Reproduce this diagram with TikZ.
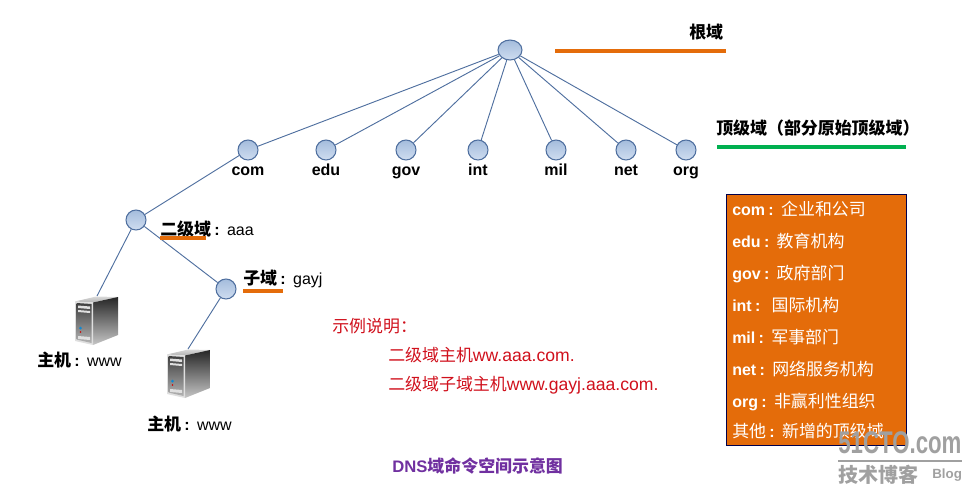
\documentclass[tikz,border=0pt]{standalone}
\usepackage{fontspec}
\setmainfont{Liberation Sans}
\newfontfamily\cjk{Noto Sans CJK SC}
\usetikzlibrary{positioning,shapes.geometric}
\definecolor{edgeblue}{HTML}{4F6F9F}
\definecolor{domtop}{HTML}{A4BCDC}
\definecolor{dombot}{HTML}{CFDDF0}
\definecolor{boxorange}{HTML}{E46C0A}
\definecolor{rulegreen}{HTML}{00B050}
\definecolor{notered}{HTML}{D0101C}
\definecolor{titlepurple}{HTML}{7030A0}
\definecolor{markgray}{HTML}{A0A0A0}
\newcommand{\zh}[1]{{\cjk\fontsize{12.7}{14}\selectfont #1}}
\newcommand{\sep}{\hspace{2.5pt}\textbf{\large:}\hspace{5.5pt}}
\tikzset{
dom/.style={circle,draw=edgeblue,thick,minimum size=15pt,inner sep=0pt,top color=domtop,bottom color=dombot},
rootdom/.style={dom,ellipse,minimum width=18pt,minimum height=15pt},
link/.style={edgeblue,line width=0.7pt},
tld/.style={font=\fontsize{12}{14}\selectfont\bfseries,inner sep=0pt,text height=9pt,text depth=3pt},
lbl/.style={font=\fontsize{12}{14}\selectfont,anchor=base west,inner sep=0pt,yshift=-4.6pt},
boxrow/.style={lbl,text=white},
noterow/.style={lbl,font=\fontsize{13.2}{15}\selectfont,text=notered},
bar/.style={line width=2.4pt},
server/.pic={
\shade[top color=gray!30,bottom color=gray!60](0,5.5)--(21,0.5)--(43,1)--(18,6.5)--cycle;
\shade[top color=black!85,bottom color=gray!45](18,6.5)--(43,1)--(43,39)--(18,49)--cycle;
\fill[gray!25](0,5.5)--(18,6.5)--(18,49)--(0,45)--cycle;
\shade[top color=black!75,bottom color=gray!60](1.5,7)--(16.5,8)--(16.5,47)--(1.5,43.5)--cycle;
\fill[gray!25](3,9.5)--(15,10.5)--(15,13)--(3,12)--cycle;
\fill[gray!25](3,14)--(15,15)--(15,17)--(3,16)--cycle;
\fill[gray!25](3,40)--(15,41)--(15,44)--(3,43)--cycle;
\fill[cyan!70!blue](5.5,32)circle(1.5);
\fill[red!80!black](5.5,36)circle(0.8);
}
}
\begin{document}
\begin{tikzpicture}[x=0.75pt,y=-0.75pt]
\useasboundingbox(0,0)rectangle(976,500);
% tree
\node[rootdom](root)at(510,50){};
\foreach \n/\x in{com/248,edu/326,gov/406,int/478,mil/556,net/626,org/686}{
\node[dom](\n)at(\x,150){};
\draw[link](root)--(\n);
\node[tld,below=2pt of \n]{\n};
}
\node[dom](aaa)at(136,220){};
\node[dom](gayj)at(226,289){};
\pic at(75,296){server};
\pic at(167,349){server};
\coordinate(hosta)at(97,296);
\coordinate(hostb)at(188,349);
\draw[link](com)--(aaa);
\draw[link](aaa)--(gayj);
\draw[link](aaa)--(hosta);
\draw[link](gayj)--(hostb);
% labels
\node[lbl,font=\fontsize{12}{14}\selectfont\bfseries](rootlbl)at(689,32){\zh{根域}};
\draw[bar,boxorange](555,51)--(726,51);
\node[lbl,font=\fontsize{12}{14}\selectfont\bfseries](tldlbl)at(716,128){\zh{顶级域（部分原始顶级域）}};
\draw[bar,rulegreen](717,147)--(906,147);
\node[lbl](aaalbl)at(160,229){\zh{\bfseries 二级域}\sep aaa};
\draw[bar,boxorange](160,238)--(206,238);
\node[lbl](gayjlbl)at(243,278){\zh{\bfseries 子域}\sep gayj};
\draw[bar,boxorange](243,291)--(283,291);
\node[lbl](hostalbl)at(37,360){\zh{\bfseries 主机}\sep www};
\node[lbl](hostblbl)at(147,424){\zh{\bfseries 主机}\sep www};
% note
\node[noterow](note)at(332,326){\zh{示例说明：}};
\node[noterow](notea)at(388,355){\zh{二级域主机}ww.aaa.com.};
\node[noterow](noteb)at(388,384){\zh{二级域子域主机}www.gayj.aaa.com.};
\node[lbl,text=titlepurple,font=\fontsize{12.5}{14}\selectfont\bfseries](title)at(392,466){DNS\zh{域命令空间示意图}};
% legend
\draw[fill=boxorange,draw=black!70!blue](726,194)rectangle(906,445);
\foreach \y/\k/\t in{209/com/企业和公司,241/edu/教育机构,273/gov/政府部门,305/int/\ 国际机构,337/mil/军事部门,369/net/网络服务机构,401/org/非赢利性组织}
\node[boxrow]at(732,\y){\textbf{\k}\sep\zh{\t}};
\node[boxrow]at(732,431){\zh{其他}\sep\zh{新增的顶级域}};
% watermark
\node[lbl,text=markgray,font=\fontsize{23.5}{25}\selectfont\bfseries](mark)at(838,447){\scalebox{0.71}[1]{51CTO.com}};
\draw[markgray,line width=1.5pt](838,461)--(962,461);
\node[lbl,text=markgray,font=\fontsize{15}{17}\selectfont\bfseries](markcn)at(838,476){{\cjk 技术博客}};
\node[lbl,text=markgray,font=\fontsize{10}{12}\selectfont\bfseries](markblog)at(932,472){Blog};
\end{tikzpicture}
\end{document}
